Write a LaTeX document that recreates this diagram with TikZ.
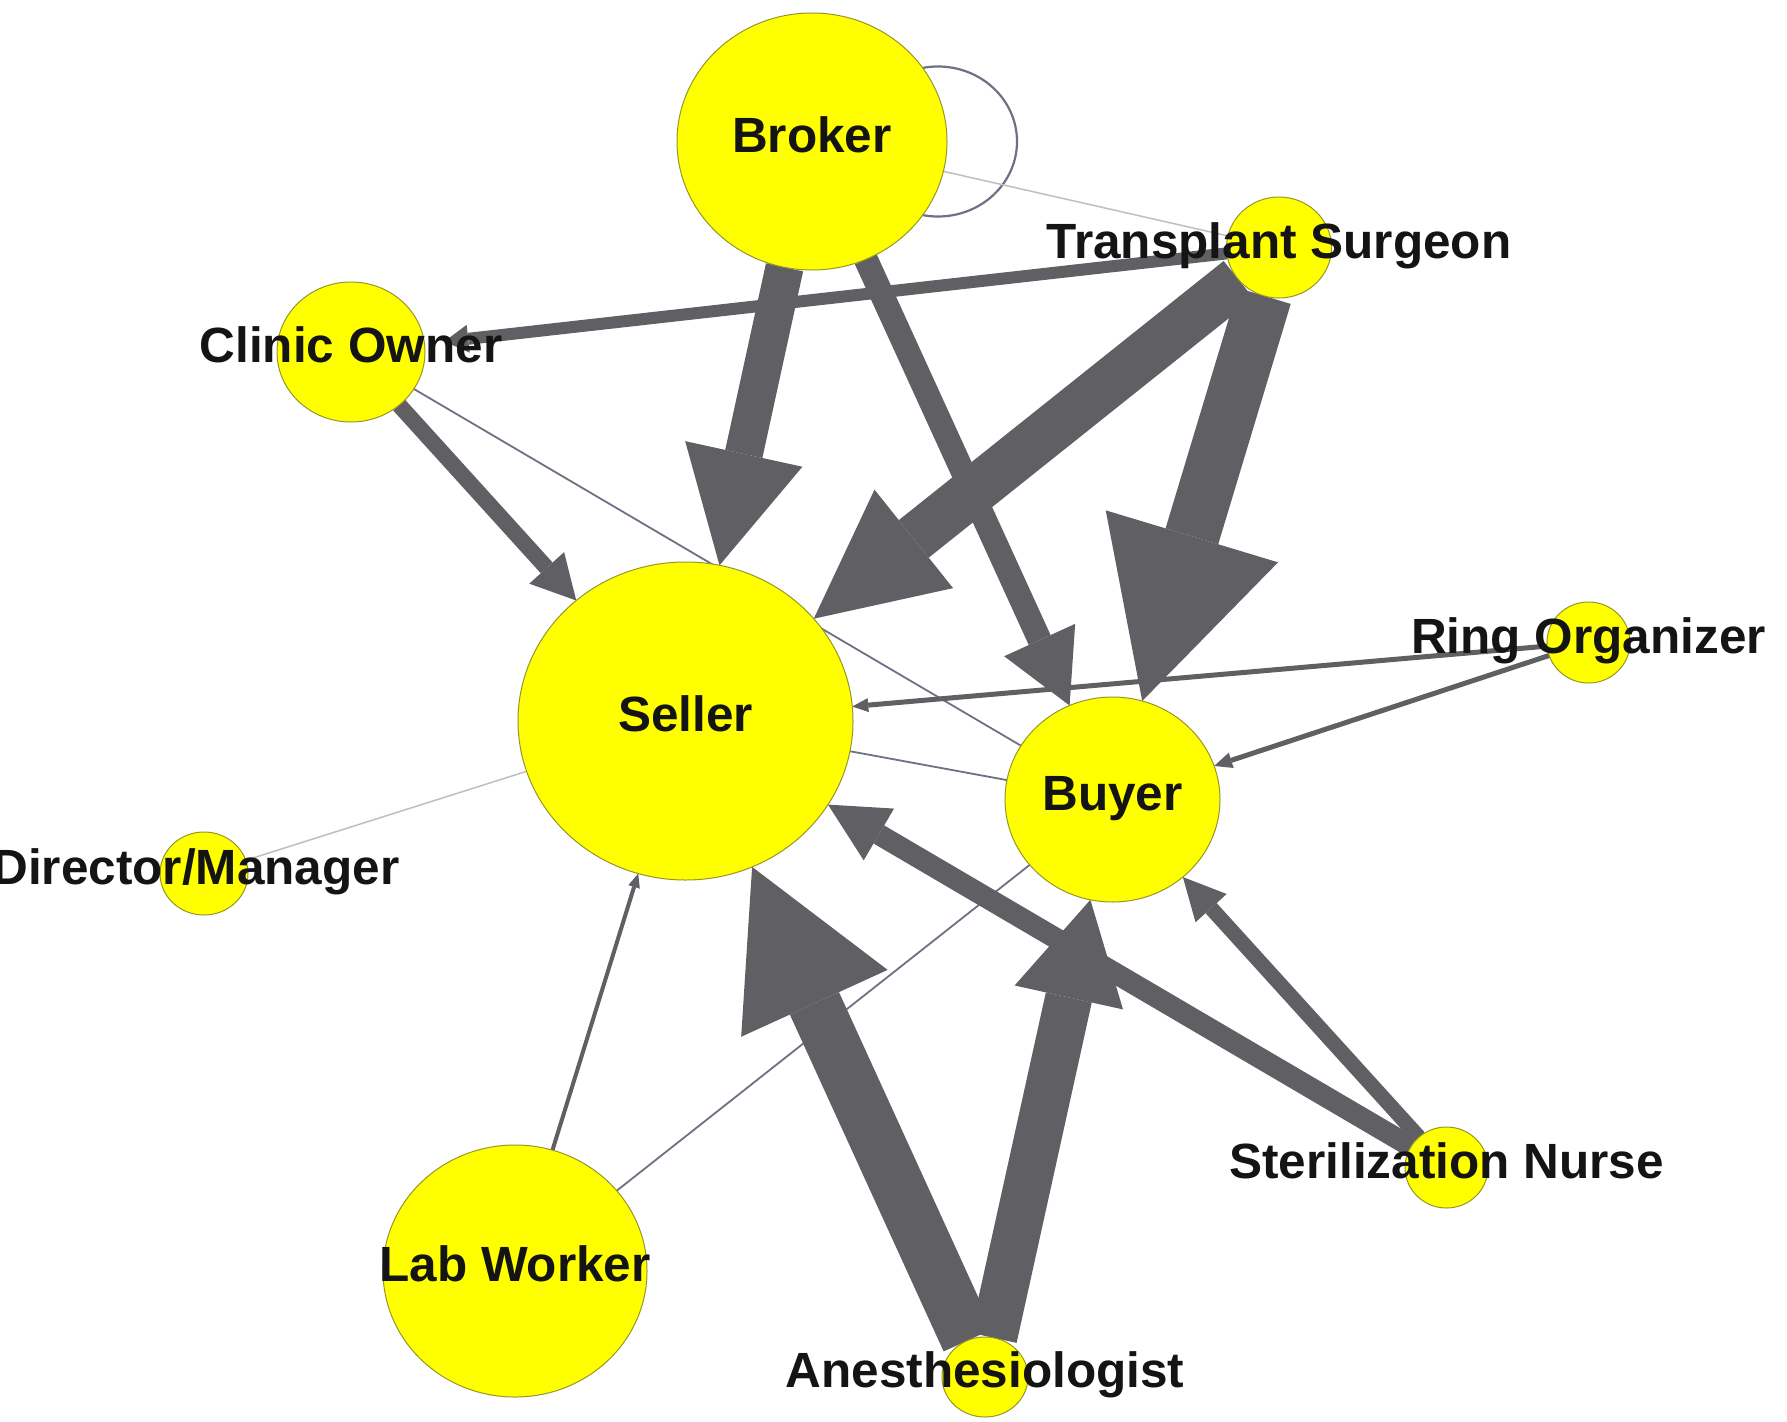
\documentclass[tikz,border=0pt]{standalone}
\usepackage{fontspec}
\setmainfont{Liberation Sans}
\usetikzlibrary{arrows.meta,shapes.geometric}
\pgfdeclarelayer{bg}
\pgfsetlayers{bg,main}
\definecolor{nodeyellow}{RGB}{255,255,0}
\definecolor{nodeline}{RGB}{150,150,40}
\definecolor{edgec}{RGB}{96,96,100}
\definecolor{weakc}{RGB}{112,112,132}
\definecolor{faintc}{RGB}{190,190,195}
\tikzset{
 person/.style n args={2}{ellipse, fill=nodeyellow, draw=nodeline, line width=1pt, minimum width=#1pt, minimum height=#2pt, inner sep=0pt, outer sep=0pt},
 lbl/.style={font=\bfseries\fontsize{49.5}{59}\selectfont, anchor=base, inner sep=0pt, yshift=-10.6pt, text=black!92},
 flow/.style n args={3}{draw=edgec, line width=#1pt, -{Triangle[length=#2pt,width=#3pt,line width=0pt]}},
 weakline/.style={draw=weakc, line width=1.8pt},
 faintline/.style={draw=faintc, line width=1.5pt},
 loopline/.style={draw=weakc, line width=2.2pt},
}
\begin{document}
\begin{tikzpicture}[x=1pt,y=-1pt]
\useasboundingbox (0,0) rectangle (1787,1421);
\clip (0,0) rectangle (1787,1421);
% nodes
\node[person={270}{257}] (broker) at (812,141.5) {};
\node[person={105}{101}] (ts) at (1279,247.5) {};
\node[person={148}{140}] (co) at (351,352) {};
\node[person={335}{318}] (seller) at (685.5,721) {};
\node[person={215}{205}] (buyer) at (1112.5,799.5) {};
\node[person={83}{81}] (ro) at (1588.5,642.5) {};
\node[person={88}{83}] (dm) at (204,873.5) {};
\node[person={264}{252}] (lab) at (515,1271) {};
\node[person={86}{80}] (anes) at (985,1377) {};
\node[person={83}{81}] (sn) at (1446.5,1167.5) {};
% labels
\node[lbl] (brokerL) at (broker.center) {Broker};
\node[lbl] (tsL) at (ts.center) {Transplant Surgeon};
\node[lbl] (coL) at (co.center) {Clinic Owner};
\node[lbl] (sellerL) at (seller.center) {Seller};
\node[lbl] (buyerL) at (buyer.center) {Buyer};
\node[lbl] (roL) at (ro.center) {Ring Organizer};
\node[lbl, xshift=-8pt] (dmL) at (dm.center) {Director/Manager};
\node[lbl] (labL) at (lab.center) {Lab Worker};
\node[lbl] (anesL) at (anes.center) {Anesthesiologist};
\node[lbl] (snL) at (sn.center) {Sterilization Nurse};
% edges
\begin{pgfonlayer}{bg}
\fill[white] (0,0) rectangle (1787,1421);
\draw[loopline] ([xshift=126pt]broker.center) ellipse [x radius=79pt, y radius=75pt];
\draw[faintline] (broker) -- (ts);
\draw[faintline] (seller) -- (dm);
\draw[weakline] (co) -- (buyer);
\draw[weakline] (seller) -- (buyer);
\draw[weakline] (lab) -- (buyer);
\draw[flow={12}{24}{28}, shorten >=20pt] (ts) -- (co);
\draw[flow={38}{114}{120}] (broker) -- (seller);
\draw[flow={24}{72}{78}] (broker) -- (buyer);
\draw[flow={48}{128}{126}] (ts) -- (seller);
\draw[flow={55}{172}{180}] (ts) -- (buyer);
\draw[flow={16}{44}{47}] (co) -- (seller);
\draw[flow={5}{16}{14}] (ro) -- (seller);
\draw[flow={5}{18}{16}] (ro) -- (buyer);
\draw[flow={4}{14}{12}] (lab) -- (seller);
\draw[flow={54}{150}{161}] (anes) -- (seller);
\draw[flow={47}{100}{111}] (anes) -- (buyer);
\draw[flow={21}{59}{60}] (sn) -- (seller);
\draw[flow={15}{42}{42}] (sn) -- (buyer);
\end{pgfonlayer}
\end{tikzpicture}
\end{document}
